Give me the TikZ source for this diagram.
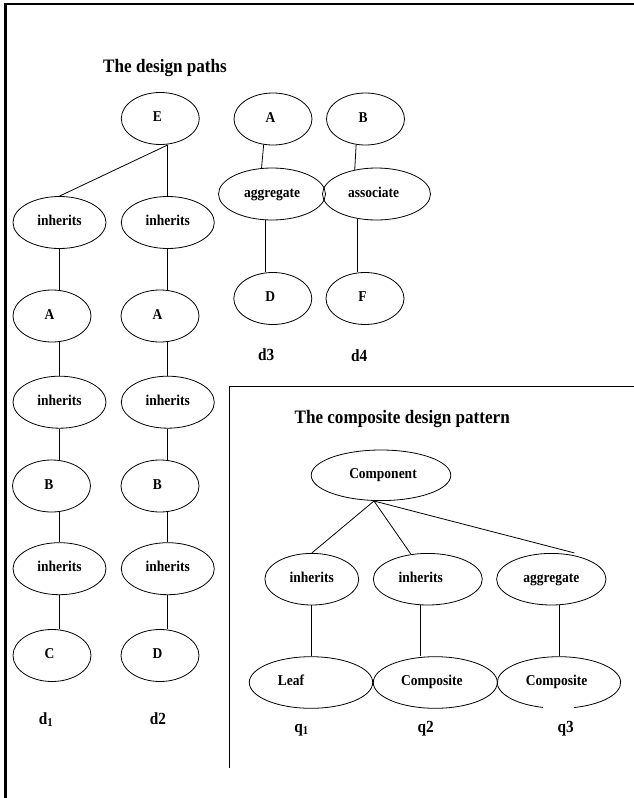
\documentclass[tikz,border=0pt]{standalone}
\usepackage{fontspec}
\setmainfont{Liberation Serif}[FakeStretch=0.9]
\usetikzlibrary{shapes.geometric,calc}
\begin{document}
\begin{tikzpicture}[x=1pt,y=-1pt,
  ell/.style={ellipse, draw, line width=0.8pt, inner sep=0pt,
    font=\bfseries\fontsize{15}{15}\selectfont, text height=10pt, text depth=3.5pt},
  sm/.style={ell, minimum width=78pt, minimum height=52pt},
  inh/.style={ell, minimum width=93pt, minimum height=52pt},
  edge/.style={line width=0.8pt},
  lbl/.style={font=\bfseries\fontsize{17}{17}\selectfont, anchor=base, inner sep=0pt},
  ttl/.style={font=\bfseries\fontsize{19}{19}\selectfont, anchor=base, inner sep=0pt}]
\useasboundingbox (0,0) rectangle (634,798);
% frames
\draw[line width=2.4pt, line join=miter] (5.3,798) -- (5.3,4) -- (634,4);
\draw[line width=1.1pt, line join=miter] (229.3,768.3) -- (229.3,386.7) -- (634,386.7);
% titles
\node[ttl] (t1) at (165,72.7) {The design paths};
\node[ttl] (t2) at (402.2,423.3) {The composite design pattern};
% design paths d1, d2
\node[sm] (E) at (160.3,118.5) {E\kern6pt};
\node[inh] (i1) at (59.5,222.5) {inherits};
\node[inh] (i2) at (167.8,222.5) {inherits};
\node[sm] (a1) at (52,316) {A\kern5pt};
\node[sm] (a2) at (160,316) {A\kern5pt};
\node[inh] (i3) at (59.5,402.2) {inherits};
\node[inh] (i4) at (167.8,402.2) {inherits};
\node[sm] (b1) at (51.5,486) {B\kern5pt};
\node[sm] (b2) at (160,486) {B\kern5pt};
\node[inh] (i5) at (59.5,568.7) {inherits};
\node[inh] (i6) at (167.8,568.7) {inherits};
\node[sm] (c1) at (52,655.5) {C\kern5pt};
\node[sm] (dd2) at (160,655.5) {D\kern5pt};
\node[lbl] (ld1) at (46,724) {d\textsubscript{1}};
\node[lbl] (ld2) at (158,724) {d2};
\draw[edge] (E.south -| i2.north) -- (i2.north);
\draw[edge] (E.south -| i2.north) -- (i1.north);
\draw[edge] (i1.south) -- (i1.south |- a1.north);
\draw[edge] (i1.south |- a1.south) -- (i3.north);
\draw[edge] (i3.south) -- (i3.south |- b1.north);
\draw[edge] (i3.south |- b1.south) -- (i5.north);
\draw[edge] (i5.south) -- (i5.south |- c1.north);
\draw[edge] (i2.south) -- (i2.south |- a2.north);
\draw[edge] (i2.south |- a2.south) -- (i4.north);
\draw[edge] (i4.south) -- (i4.south |- b2.north);
\draw[edge] (i4.south |- b2.south) -- (i6.north);
\draw[edge] (i6.south) -- (i6.south |- dd2.north);
% design paths d3, d4
\node[sm] (At) at (273,119) {A\kern5pt};
\node[sm] (Bt) at (365.5,119) {B\kern5pt};
\node[ell, minimum width=107pt, minimum height=52pt] (agg) at (272,194) {aggregate};
\node[ell, minimum width=108pt, minimum height=52pt] (asc) at (376.5,194) {associate\kern6pt};
\node[sm] (Dt) at (272.8,298.5) {D\kern5pt};
\node[sm] (F) at (365,298.5) {F\kern5pt};
\node[lbl] (ld3) at (266.3,360) {d3};
\node[lbl] (ld4) at (359.2,361) {d4};
\draw[edge] (At.250) -- (agg.112);
\draw[edge] (Bt.250) -- (asc.132);
\draw[edge] ([xshift=-7pt]agg.south) -- ([xshift=-7pt]agg.south |- Dt.north);
\draw[edge] (asc.232) -- (asc.232 |- F.north);
% composite design pattern
\node[ell, minimum width=139.6pt, minimum height=50.6pt] (comp) at (381,475.3) {\kern4pt Component};
\node[ell, minimum width=93.8pt, minimum height=51.6pt] (iq1) at (311.8,579.2) {inherits};
\node[ell, minimum width=109pt, minimum height=51.6pt] (iq2) at (427.8,579.2) {inherits\kern14pt};
\node[ell, minimum width=109.4pt, minimum height=51.6pt] (aq3) at (551.3,579.2) {aggregate};
\node[ell, minimum width=123.4pt, minimum height=51.6pt] (leaf) at (311,682.5) {Leaf\kern40pt};
\node[ell, minimum width=124pt, minimum height=51.6pt] (cq2) at (435.3,682.5) {Composite\kern7pt};
\node[ell, draw=none, minimum width=123.4pt, minimum height=51.6pt] (cq3) at (559,682.5) {Composite\kern5pt};
\draw[edge] ([shift={(284:61.7pt and 25.8pt)}]cq3.center) arc[start angle=284, end angle=615, x radius=61.7pt, y radius=25.8pt];
\node[lbl] (lq1) at (301.6,732) {q\textsubscript{1}};
\node[lbl] (lq2) at (425.8,732) {q2};
\node[lbl] (lq3) at (565.8,732) {q3};
\coordinate (cj) at ([xshift=-7pt]comp.south);
\draw[edge] (cj) -- (iq1.north);
\draw[edge] (cj) -- (iq2.124);
\draw[edge] (cj) -- ($(aq3.46)+(0,-2.5)$);
\draw[edge] (iq1.south) -- (iq1.south |- leaf.north);
\draw[edge] ([xshift=-7.8pt]iq2.south) -- ([xshift=-7.8pt]iq2.south |- cq2.north);
\draw[edge] ([xshift=7.7pt]aq3.south) -- (cq3.north);
\end{tikzpicture}
\end{document}
